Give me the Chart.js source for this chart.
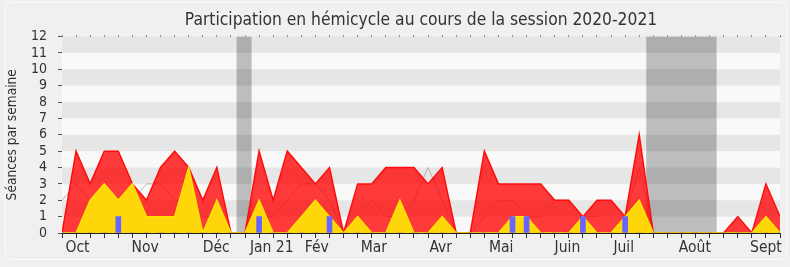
<!DOCTYPE html>
<html>
<head>
<meta charset="utf-8">
<script src="https://cdn.jsdelivr.net/npm/chart.js@4/dist/chart.umd.min.js"></script>
<style>
  html, body { margin: 0; padding: 0; background: #f0f0f0; }
  #wrap { position: relative; width: 790px; height: 267px; }
  #frame { position: absolute; left: 5px; top: 2px; width: 780px; height: 256px;
           border: 1px solid #fbfbfb; border-radius: 6px; }
  canvas { position: absolute; left: 0; top: 0; }
</style>
</head>
<body>
<div id="wrap">
  <div id="frame"></div>
  <canvas id="chart" width="790" height="267"></canvas>
</div>
<script>
// Semaines de la session (index 0..51)
const presences = [0, 5, 3, 5, 5, 3, 2, 4, 5, 4, 2, 4, 0, 0, 5, 2, 5, 4, 3, 4, 0, 3, 3, 4, 4, 4,
                   3, 4, 0, 0, 5, 3, 3, 3, 3, 2, 2, 1, 2, 2, 1, 6, 0, 0, 0, 0, 0, 0, 1, 0, 3, 1];
const interventions = [0, 0, 2, 3, 2, 3, 1, 1, 1, 4, 0, 2, 0, 0, 2, 0, 0, 1, 2, 1, 0, 1, 0, 0, 2, 0,
                       0, 1, 0, 0, 0, 0, 1, 1, 0, 0, 0, 1, 0, 0, 1, 2, 0, 0, 0, 0, 0, 0, 0, 0, 1, 0];
const mediane = [2, 3, 2, 2, 2, 2, 3, 3, 2, 2, 1, 1, 0, 0, 1, 1, 2, 3, 3, 2, 0, 1, 2, 1, 1, 2,
                 4, 2, 0, 0, 1, 2, 2, 1, 1, 2, 2, 1, 1, 2, 1, 4, 0, 0, 0, 0, 0, 0, 0, 0, 0, 0];
const questions = [0, 0, 0, 0, 1, 0, 0, 0, 0, 0, 0, 0, 0, 0, 1, 0, 0, 0, 0, 1, 0, 0, 0, 0, 0, 0,
                   0, 0, 0, 0, 0, 0, 1, 1, 0, 0, 0, 1, 0, 0, 1, 0, 0, 0, 0, 0, 0, 0, 0, 0, 0, 0];

// Repères des mois (en semaines)
const moisLabels = ["Oct", "Nov", "Déc", "Jan 21", "Fév", "Mar", "Avr", "Mai", "Juin", "Juil", "Août", "Sept"];
const moisPos = [1.1, 5.9, 10.95, 14.9, 18.1, 22.15, 26.9, 31.2, 35.9, 39.9, 44.95, 50];

// Vacances parlementaires (début, fin en semaines)
const vacances = [[12.4, 13.47], [41.5, 46.5]];

const nbSemaines = presences.length;
const toPoints = arr => arr.map((v, i) => ({ x: i, y: v }));

Chart.defaults.font.family = '"DejaVu Sans Condensed", "DejaVu Sans", sans-serif';
Chart.defaults.color = "#333";

// Fond rayé et bandes de vacances
const fondPlugin = {
  id: "fond",
  beforeDatasetsDraw(chart) {
    const { ctx, chartArea: a, scales: { x, y } } = chart;
    ctx.save();
    ctx.fillStyle = "#f9f9f9";
    ctx.fillRect(a.left, a.top, a.right - a.left, a.bottom - a.top);
    ctx.fillStyle = "#bdbdbd";
    vacances.forEach(([d, f]) => {
      const x0 = x.getPixelForValue(d), x1 = x.getPixelForValue(f);
      ctx.fillRect(x0, a.top, x1 - x0, a.bottom - a.top);
    });
    ctx.fillStyle = "rgba(0,0,0,0.075)";
    for (let k = 1; k < 12; k += 2) {
      const y0 = y.getPixelForValue(k + 1), y1 = y.getPixelForValue(k);
      ctx.fillRect(a.left, y0, a.right - a.left, y1 - y0);
    }
    ctx.restore();
  }
};

function semaineTicks(withMonths) {
  return scale => {
    const t = [];
    for (let i = 0; i < nbSemaines; i++) {
      if (!(withMonths && moisPos.includes(i))) t.push({ value: i });
    }
    if (withMonths) moisPos.forEach(v => t.push({ value: v }));
    t.sort((p, q) => p.value - q.value);
    scale.ticks = t;
  };
}

new Chart(document.getElementById("chart"), {
  type: "line",
  data: {
    datasets: [
      {
        type: "bar",
        label: "Questions orales",
        data: toPoints(questions),
        backgroundColor: "#6666ff",
        barThickness: 5,
        order: 0
      },
      {
        label: "Interventions",
        data: toPoints(interventions),
        borderColor: "#ffe400",
        backgroundColor: "#ffd60a",
        borderWidth: 1.5,
        fill: "origin",
        pointRadius: 0,
        tension: 0,
        order: 1
      },
      {
        label: "Présences",
        data: toPoints(presences),
        borderColor: "#ff0d0d",
        backgroundColor: "rgba(255,0,0,0.77)",
        borderWidth: 1.5,
        fill: "origin",
        pointRadius: 0,
        tension: 0,
        order: 2
      },
      {
        label: "Médiane",
        data: toPoints(mediane),
        borderColor: "#b4b4b4",
        borderWidth: 1,
        fill: false,
        pointRadius: 0,
        tension: 0,
        order: 3
      }
    ]
  },
  options: {
    responsive: false,
    animation: false,
    devicePixelRatio: 1,
    layout: { padding: { left: 0, right: 10, top: 0, bottom: 0 } },
    plugins: {
      legend: { display: false },
      tooltip: { enabled: false },
      title: {
        display: true,
        fullSize: false,
        text: "Participation en hémicycle au cours de la session 2020-2021",
        font: { size: 17.3, weight: "normal" },
        color: "#333",
        padding: { top: 10, bottom: 3.8 }
      }
    },
    scales: {
      x: {
        type: "linear",
        position: "bottom",
        min: 0,
        max: nbSemaines - 1,
        offset: false,
        afterBuildTicks: semaineTicks(true),
        afterFit: s => { s.height = 34; },
        ticks: {
          autoSkip: false,
          maxRotation: 0,
          padding: 1,
          font: { size: 15.5 },
          color: "#333",
          callback: v => {
            const k = moisPos.indexOf(v);
            return k >= 0 ? moisLabels[k] : "";
          }
        },
        grid: {
          offset: false,
          drawOnChartArea: false,
          tickLength: 5,
          tickColor: c => (c.tick && Number.isInteger(c.tick.value)) ? "#333" : "rgba(0,0,0,0)"
        },
        border: { display: true, color: "#222", width: 1 }
      },
      x2: {
        type: "linear",
        position: "top",
        min: 0,
        max: nbSemaines - 1,
        afterBuildTicks: semaineTicks(false),
        afterFit: s => { s.height = 2; },
        ticks: { display: false },
        grid: { drawOnChartArea: false, tickLength: 1, tickColor: "#333" },
        border: { display: false }
      },
      y: {
        min: 0,
        max: 12,
        afterFit: s => { s.width = 62; },
        ticks: { stepSize: 1, autoSkip: false, padding: 11, font: { size: 14 }, color: "#333" },
        grid: { drawOnChartArea: false, tickLength: 4, tickColor: "#555" },
        border: { display: true, color: "#222", width: 1 },
        title: {
          display: true,
          text: "Séances par semaine",
          font: { size: 13.6 },
          color: "#333",
          padding: { top: 4, bottom: 0 }
        }
      }
    }
  },
  plugins: [fondPlugin]
});
</script>
</body>
</html>
